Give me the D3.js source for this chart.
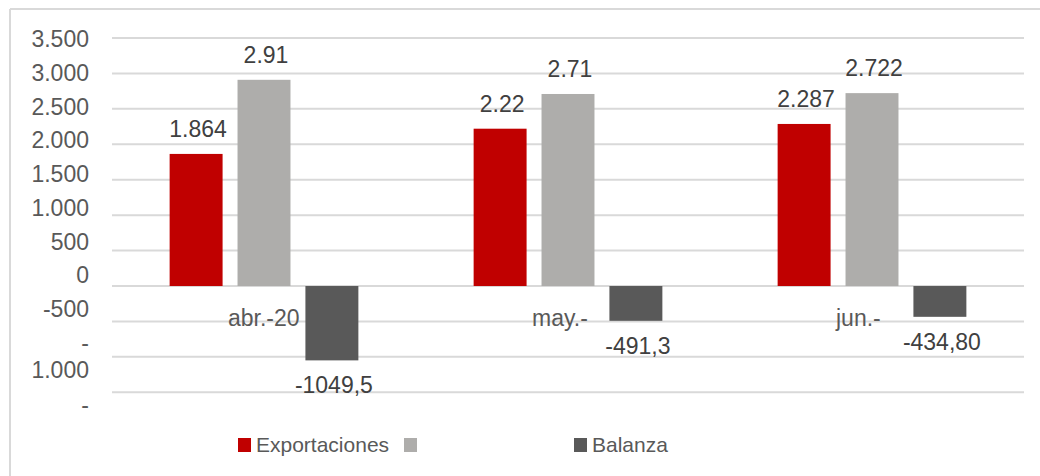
<!DOCTYPE html>
<html>
<head>
<meta charset="utf-8">
<script src="https://cdn.jsdelivr.net/npm/d3@7"></script>
<style>
  html, body { margin: 0; padding: 0; background: #fff; }
  svg { display: block; font-family: "Liberation Sans", Arial, sans-serif; }
</style>
</head>
<body>
<div id="chart"></div>
<script>
// data
const categories = ["abr.-20", "may.-", "jun.-"];
const seriesNames = ["Exportaciones", "", "Balanza"];
const exportaciones = [1864, 2220, 2287];
const importaciones = [2910, 2710, 2722];
const balanza = [-1049.5, -491.3, -434.8];
const exportLabels = ["1.864", "2.22", "2.287"];
const importLabels = ["2.91", "2.71", "2.722"];
const balanzaLabels = ["-1049,5", "-491,3", "-434,80"];
const yTicks = [3500, 3000, 2500, 2000, 1500, 1000, 500, 0, -500, -1000, -1500];
const yTickLabels = ["3.500", "3.000", "2.500", "2.000", "1.500", "1.000", "500", "0", "-500", "-\n1.000", "-"];

(function () {
  const COLORS = ["#c00000", "#aeadab", "#595959"];
  const width = 1040;
  const height = 476;

  const svg = d3
    .select("#chart")
    .append("svg")
    .attr("width", width)
    .attr("height", height);

  // frame (only left and top edges show in the crop)
  svg.append("line").attr("x1", 10).attr("x2", 10).attr("y1", 9).attr("y2", height).attr("stroke", "#d9d9d9").attr("stroke-width", 2);
  svg.append("line").attr("x1", 10).attr("x2", width).attr("y1", 9).attr("y2", 9).attr("stroke", "#d9d9d9").attr("stroke-width", 2);

  const y = d3.scaleLinear().domain([-1500, 3500]).range([392.3, 38]);
  // tick labels drift from the gridlines in the original, so they get their own scale
  const yLabel = d3.scaleLinear().domain([3500, -1000]).range([39, 343]);

  const x0 = d3.scaleBand().domain(categories).range([112, 1024]).paddingInner(0.33).paddingOuter(0.165);
  const x1 = d3.scaleBand().domain([0, 1, 2]).range([0, x0.bandwidth()]).paddingInner(0.22).paddingOuter(0.11);

  // gridlines
  svg.append("g")
    .selectAll("line")
    .data(yTicks)
    .join("line")
    .attr("x1", 112)
    .attr("x2", 1024)
    .attr("y1", (d) => y(d))
    .attr("y2", (d) => y(d))
    .attr("stroke", "#d9d9d9")
    .attr("stroke-width", 2);

  // y tick labels (the -1000 one wraps, pushing the next one down)
  const labelG = svg.append("g").attr("fill", "#595959").attr("font-size", "23px").attr("text-anchor", "end");
  let shift = 0;
  yTicks.forEach((v, i) => {
    const lines = yTickLabels[i].split("\n");
    const cy = yLabel(v) + shift;
    const t = labelG.append("text").attr("x", 89).attr("y", cy + 8);
    lines.forEach((ln, j) => {
      t.append("tspan").attr("x", 89).attr("dy", j === 0 ? 0 : 27).text(ln);
    });
    if (lines.length > 1) shift += 28;
  });

  const series = [exportaciones, importaciones, balanza];
  const seriesLabels = [exportLabels, importLabels, balanzaLabels];

  // bars
  const groups = svg.append("g")
    .selectAll("g")
    .data(categories)
    .join("g")
    .attr("transform", (d) => `translate(${x0(d)},0)`);

  groups.selectAll("rect")
    .data((d, ci) => series.map((s, si) => ({ si, v: s[ci], label: seriesLabels[si][ci] })))
    .join("rect")
    .attr("x", (d) => x1(d.si))
    .attr("width", x1.bandwidth())
    .attr("y", (d) => y(Math.max(0, d.v)))
    .attr("height", (d) => Math.abs(y(d.v) - y(0)))
    .attr("fill", (d) => COLORS[d.si]);

  // category labels
  svg.append("g")
    .selectAll("text")
    .data(categories)
    .join("text")
    .attr("x", (d) => x0(d) + x0.bandwidth() / 2 - 36)
    .attr("y", 326)
    .attr("font-size", "23px")
    .attr("fill", "#595959")
    .text((d) => d);

  // data labels
  groups.selectAll("text")
    .data((d, ci) => series.map((s, si) => ({ si, v: s[ci], label: seriesLabels[si][ci] })))
    .join("text")
    .attr("x", (d) => x1(d.si) + x1.bandwidth() / 2 + 2)
    .attr("y", (d) => (d.v >= 0 ? y(d.v) - 17 : y(d.v) + 33))
    .attr("text-anchor", "middle")
    .attr("font-size", "23px")
    .attr("fill", "#404040")
    .text((d) => d.label);

  // legend
  const legendX = [238, 404, 574];
  const legend = svg.append("g")
    .selectAll("g")
    .data(seriesNames)
    .join("g")
    .attr("transform", (d, i) => `translate(${legendX[i]},438)`);

  legend.append("rect").attr("width", 13).attr("height", 14).attr("fill", (d, i) => COLORS[i]);
  legend.append("text")
    .attr("x", 18)
    .attr("y", 14)
    .attr("font-size", "21px")
    .attr("fill", "#595959")
    .text((d) => d);
})();
</script>
</body>
</html>
